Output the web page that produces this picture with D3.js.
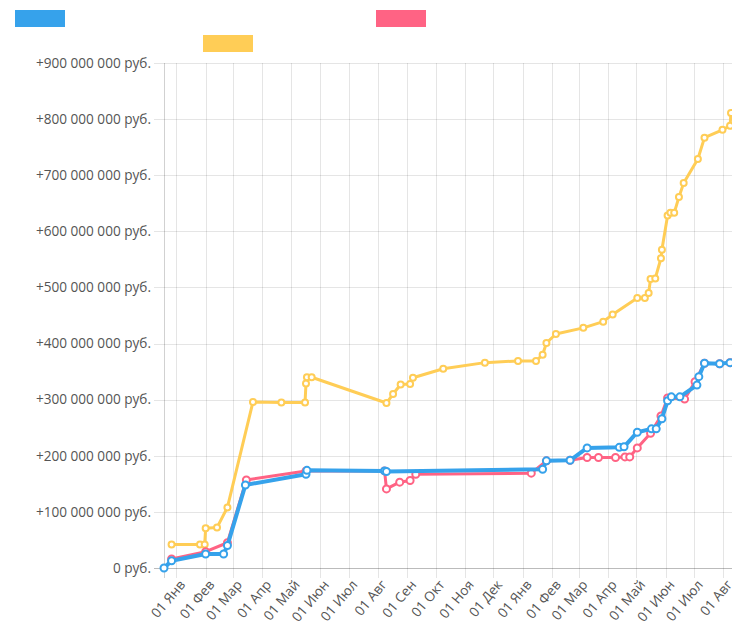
<!DOCTYPE html>
<html>
<head>
<meta charset="utf-8">
<script src="https://cdn.jsdelivr.net/npm/d3@7"></script>
<style>
  html, body { margin: 0; padding: 0; background: #fff; }
  svg { display: block; font-family: "Open Sans", sans-serif; }
  .grid line { stroke: rgba(0, 0, 0, 0.1); shape-rendering: crispEdges; }
  .axis-line { stroke: rgba(0, 0, 0, 0.18); shape-rendering: crispEdges; }
  .tick-label { fill: #555; font-size: 13.6px; }
</style>
</head>
<body>
<svg id="chart" width="732" height="627"></svg>
<script>
// values, rubles
var blueDates = ["2015-12-19", "2015-12-27", "2016-02-01", "2016-02-20", "2016-02-24", "2016-03-14",
  "2016-05-17", "2016-05-18", "2016-08-08", "2016-08-10", "2017-01-22", "2017-01-26", "2017-02-20",
  "2017-03-10", "2017-04-13", "2017-04-18", "2017-05-02", "2017-05-17", "2017-05-22", "2017-05-28",
  "2017-06-03", "2017-06-07", "2017-06-16", "2017-07-04", "2017-07-06", "2017-07-12", "2017-07-28",
  "2017-08-08"];
var blueValues = [0, 13e6, 25e6, 25e6, 40e6, 148e6,
  167e6, 174e6, 173e6, 172e6, 176e6, 191e6, 192e6,
  214e6, 215e6, 216e6, 242e6, 248e6, 248e6, 266e6,
  298e6, 305e6, 305e6, 326e6, 341e6, 365e6, 364e6,
  366e6];

var pinkDates = ["2015-12-27", "2016-02-01", "2016-02-24", "2016-03-15", "2016-05-17", "2016-08-08",
  "2016-08-10", "2016-08-24", "2016-09-04", "2016-09-10", "2017-01-10", "2017-01-26", "2017-02-20",
  "2017-03-10", "2017-03-22", "2017-04-09", "2017-04-19", "2017-04-24", "2017-05-02", "2017-05-16",
  "2017-05-27", "2017-06-03", "2017-06-21", "2017-07-02", "2017-07-12", "2017-07-28", "2017-08-08"];
var pinkValues = [16e6, 29e6, 45e6, 157e6, 173e6, 173e6,
  141e6, 153e6, 156e6, 167e6, 169e6, 191e6, 192e6,
  197e6, 197e6, 197e6, 198e6, 198e6, 214e6, 240e6,
  271e6, 303e6, 301e6, 332e6, 365e6, 364e6, 366e6];

var yellowDates = ["2015-12-27", "2016-01-26", "2016-01-31", "2016-02-01", "2016-02-13", "2016-02-24",
  "2016-03-22", "2016-04-21", "2016-05-16", "2016-05-17", "2016-05-18", "2016-05-23", "2016-08-10",
  "2016-08-17", "2016-08-25", "2016-09-04", "2016-09-07", "2016-10-09", "2016-11-22", "2016-12-27",
  "2017-01-15", "2017-01-22", "2017-01-26", "2017-02-05", "2017-03-06", "2017-03-27", "2017-04-06",
  "2017-05-02", "2017-05-10", "2017-05-14", "2017-05-16", "2017-05-21", "2017-05-27", "2017-05-28",
  "2017-06-03", "2017-06-06", "2017-06-10", "2017-06-15", "2017-06-20", "2017-07-05", "2017-07-12",
  "2017-07-31", "2017-08-08", "2017-08-09"];
var yellowValues = [42e6, 42e6, 42e6, 71e6, 72e6, 108e6,
  296e6, 295e6, 295e6, 329e6, 340e6, 340e6, 294e6,
  310e6, 327e6, 328e6, 339e6, 355e6, 366e6, 369e6,
  369e6, 380e6, 401e6, 417e6, 428e6, 439e6, 452e6,
  481e6, 481e6, 490e6, 515e6, 516e6, 552e6, 567e6,
  628e6, 633e6, 633e6, 661e6, 686e6, 729e6, 767e6,
  781e6, 788e6, 811e6];

var yTicks = [0, 100e6, 200e6, 300e6, 400e6, 500e6, 600e6, 700e6, 800e6, 900e6];
var monthNames = ["Янв", "Фев", "Мар", "Апр", "Май", "Июн", "Июл", "Авг", "Сен", "Окт", "Ноя", "Дек"];

var series = [
  { key: "yellow", color: "#ffcd56", width: 3, r: 3, dates: yellowDates, values: yellowValues },
  { key: "pink", color: "#ff6384", width: 3, r: 3.5, dates: pinkDates, values: pinkValues },
  { key: "blue", color: "#36a2eb", width: 4, r: 3.5, dates: blueDates, values: blueValues }
];
var legendItems = [
  { color: "#36a2eb", x: 15, y: 10 },
  { color: "#ff6384", x: 376, y: 10 },
  { color: "#ffcd56", x: 203, y: 35 }
];

var parse = d3.utcParse("%Y-%m-%d");
series.forEach(function(s) {
  s.points = s.dates.map(function(d, i) {
    return { date: parse(d), value: s.values[i] };
  });
});

var plot = { left: 164, right: 731, top: 63, bottom: 568 };
var tickLen = 10;

var allDates = [].concat.apply([], series.map(function(s) {
  return s.points.map(function(p) { return p.date; });
}));

var x = d3.scaleUtc()
  .domain(d3.extent(allDates))
  .range([plot.left, plot.right]);
var y = d3.scaleLinear()
  .domain([0, 900e6])
  .range([plot.bottom, plot.top]);

var svg = d3.select("#chart");

// legend
svg.append("g").attr("class", "legend")
  .selectAll("rect")
  .data(legendItems)
  .enter()
  .append("rect")
  .attr("x", function(d) { return d.x; })
  .attr("y", function(d) { return d.y; })
  .attr("width", 50)
  .attr("height", 17)
  .attr("fill", function(d) { return d.color; });

// grid
var xTicks = d3.utcMonth.range(d3.utcMonth.ceil(x.domain()[0]), x.domain()[1]);
var grid = svg.append("g").attr("class", "grid");
grid.selectAll(".h")
  .data(yTicks)
  .enter()
  .append("line")
  .attr("class", "h")
  .attr("x1", plot.left - tickLen)
  .attr("x2", 732)
  .attr("y1", function(d) { return Math.round(y(d)) + 0.5; })
  .attr("y2", function(d) { return Math.round(y(d)) + 0.5; });
grid.selectAll(".v")
  .data(xTicks)
  .enter()
  .append("line")
  .attr("class", "v")
  .attr("y1", plot.top)
  .attr("y2", plot.bottom + tickLen)
  .attr("x1", function(d) { return Math.round(x(d)) + 0.5; })
  .attr("x2", function(d) { return Math.round(x(d)) + 0.5; });

svg.append("line").attr("class", "axis-line")
  .attr("x1", plot.left + 0.5).attr("x2", plot.left + 0.5)
  .attr("y1", plot.top).attr("y2", plot.bottom + tickLen);
svg.append("line").attr("class", "axis-line")
  .attr("x1", plot.left - tickLen).attr("x2", 732)
  .attr("y1", plot.bottom + 0.5).attr("y2", plot.bottom + 0.5);

// y labels
var fmtNum = function(v) {
  var s = d3.format(",")(v).replace(/,/g, " ");
  return (v > 0 ? "+" : "") + s + " руб.";
};
svg.append("g")
  .selectAll("text")
  .data(yTicks)
  .enter()
  .append("text")
  .attr("class", "tick-label")
  .attr("x", plot.left - tickLen - 3)
  .attr("y", function(d) { return y(d); })
  .attr("dy", "0.35em")
  .attr("text-anchor", "end")
  .text(fmtNum);

// x labels
svg.append("g")
  .selectAll("text")
  .data(xTicks)
  .enter()
  .append("text")
  .attr("class", "tick-label")
  .attr("text-anchor", "end")
  .attr("dy", "0.35em")
  .attr("transform", function(d) {
    return "translate(" + (x(d) + 6) + "," + (plot.bottom + 14) + ") rotate(-50)";
  })
  .text(function(d) { return "01 " + monthNames[d.getUTCMonth()]; });

// lines and points
var line = d3.line()
  .x(function(p) { return x(p.date); })
  .y(function(p) { return y(p.value); });

var layers = svg.append("g").attr("class", "series")
  .selectAll("g")
  .data(series)
  .enter()
  .append("g");

layers.append("path")
  .attr("d", function(s) { return line(s.points); })
  .attr("fill", "none")
  .attr("stroke", function(s) { return s.color; })
  .attr("stroke-width", function(s) { return s.width; })
  .attr("stroke-linejoin", "round");

layers.each(function(s) {
  d3.select(this).selectAll("circle")
    .data(s.points)
    .enter()
    .append("circle")
    .attr("cx", function(p) { return x(p.date); })
    .attr("cy", function(p) { return y(p.value); })
    .attr("r", s.r)
    .attr("fill", "#fff")
    .attr("stroke", s.color)
    .attr("stroke-width", 2);
});
</script>
</body>
</html>
